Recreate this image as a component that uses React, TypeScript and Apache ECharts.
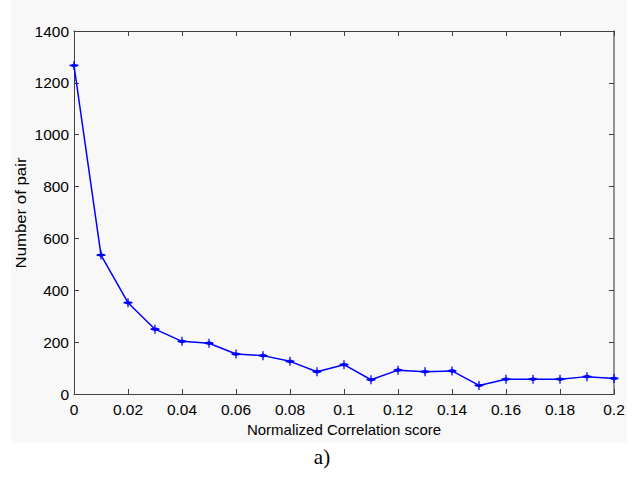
import React, { useEffect, useRef } from "react";
import * as echarts from "echarts";

const xValues = [0, 0.01, 0.02, 0.03, 0.04, 0.05, 0.06, 0.07, 0.08, 0.09, 0.1, 0.11, 0.12, 0.13, 0.14, 0.15, 0.16, 0.17, 0.18, 0.19, 0.2];
const pairCounts = [1267, 536, 352, 250, 203, 196, 154, 148, 126, 86, 113, 55, 92, 86, 89, 33, 57, 57, 57, 67, 60];
const xTicks = [0, 0.02, 0.04, 0.06, 0.08, 0.1, 0.12, 0.14, 0.16, 0.18, 0.2];
const yTicks = [0, 200, 400, 600, 800, 1000, 1200, 1400];

const starSymbol =
  "path://M4.3,0 L5.7,0 L5.7,3 L7.2,3.5 L10,4.3 L10,5.7 L7.2,6.5 L5.7,7 L5.7,10 L4.3,10 L4.3,7 L2.8,6.5 L0,5.7 L0,4.3 L2.8,3.5 L4.3,3 Z";

export default function App() {
  const ref = useRef<HTMLDivElement>(null);
  useEffect(() => {
    if (!ref.current) return;
    const chart = echarts.init(ref.current, null, { renderer: "svg" });
    const font = "Liberation Sans, Arial, sans-serif";
    const axisColor = "#404040";
    const fmtX = (v: number) => {
      const r = Math.round(v * 100) / 100;
      return xTicks.some((t) => Math.abs(t - r) < 1e-9) ? String(r) : "";
    };
    chart.setOption({
      animation: false,
      backgroundColor: "#ffffff",
      graphic: [
        {
          type: "rect",
          z: -10,
          silent: true,
          shape: { x: 11, y: 0, width: 616, height: 443 },
          style: { fill: "#f8f8f8" },
        },
        {
          type: "text",
          x: 21,
          y: 213,
          rotation: Math.PI / 2,
          scaleX: 1.12,
          style: {
            text: "Number of pair",
            fontFamily: font,
            fontSize: 15,
            fill: "#000",
            align: "center",
            verticalAlign: "middle",
          },
        },
        {
          type: "text",
          x: 322,
          y: 457,
          style: {
            text: "a)",
            fontFamily: "Liberation Serif, Times New Roman, serif",
            fontSize: 21,
            fill: "#000",
            align: "center",
            verticalAlign: "middle",
          },
        },
      ],
      grid: { left: 74, right: 23, top: 31, bottom: 83, containLabel: false },
      xAxis: [
        {
          type: "value",
          min: 0,
          max: 0.2,
          interval: 0.02,
          name: "Normalized Correlation score",
          nameLocation: "middle",
          nameGap: 27,
          nameTextStyle: { fontFamily: font, fontSize: 15, color: "#000" },
          axisLine: { show: true, onZero: false, lineStyle: { color: axisColor, width: 1 } },
          axisTick: { show: true, inside: true, length: 5, lineStyle: { color: axisColor } },
          axisLabel: { fontFamily: font, fontSize: 15.5, color: "#000", margin: 7, formatter: fmtX },
          splitLine: { show: false },
        },
        {
          type: "value",
          position: "top",
          min: 0,
          max: 0.2,
          interval: 0.02,
          axisLine: { show: true, onZero: false, lineStyle: { color: axisColor, width: 1 } },
          axisTick: { show: true, inside: true, length: 5, lineStyle: { color: axisColor } },
          axisLabel: { show: false },
          splitLine: { show: false },
        },
      ],
      yAxis: [
        {
          type: "value",
          min: 0,
          max: 1400,
          interval: 200,
          axisLine: { show: true, onZero: false, lineStyle: { color: axisColor, width: 1 } },
          axisTick: { show: true, inside: true, length: 5, lineStyle: { color: axisColor } },
          axisLabel: {
            fontFamily: font,
            fontSize: 15.5,
            color: "#000",
            margin: 5,
            formatter: (v: number) => (yTicks.includes(v) ? String(v) : ""),
          },
          splitLine: { show: false },
        },
        {
          type: "value",
          position: "right",
          min: 0,
          max: 1400,
          interval: 200,
          axisLine: { show: true, onZero: false, lineStyle: { color: "#707070", width: 1.5 } },
          axisTick: { show: true, inside: true, length: 5, lineStyle: { color: axisColor } },
          axisLabel: { show: false },
          splitLine: { show: false },
        },
      ],
      series: [
        {
          type: "line",
          data: xValues.map((x, i) => [x, pairCounts[i]]),
          symbol: starSymbol,
          symbolSize: 9,
          showAllSymbol: true,
          itemStyle: { color: "#0000ff" },
          lineStyle: { color: "#0000ff", width: 1.5 },
          clip: false,
        },
      ],
    });
    return () => chart.dispose();
  }, []);
  return (
    <div
      ref={ref}
      style={{ position: "fixed", left: 0, top: 0, width: 637, height: 477 }}
    />
  );
}
